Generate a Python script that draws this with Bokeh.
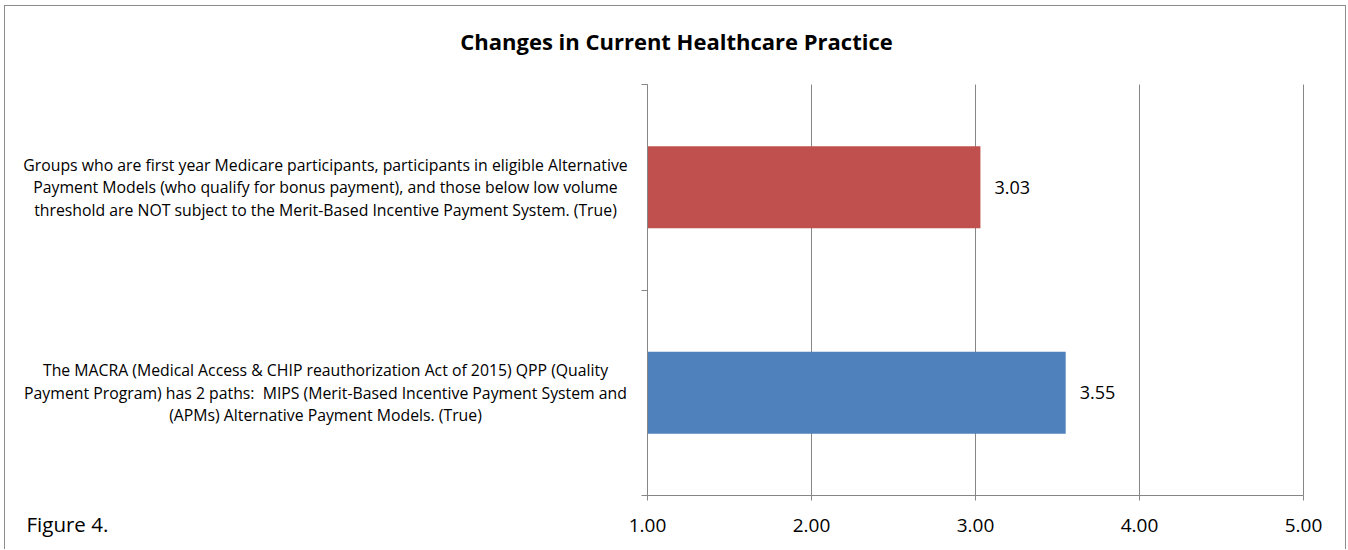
from bokeh.plotting import figure
from bokeh.models import ColumnDataSource, Range1d, FixedTicker, NumeralTickFormatter, Label, LabelSet
from bokeh.core.properties import value
from bokeh.embed import file_html
from bokeh.resources import INLINE

# ---- data ----
title_text = "Changes in Current Healthcare Practice"
categories = [
    "The MACRA (Medical Access & CHIP reauthorization Act of 2015) QPP (Quality\nPayment Program) has 2 paths:\u00a0 MIPS (Merit-Based Incentive Payment System and\n(APMs) Alternative Payment Models. (True)",
    "Groups who are first year Medicare participants, participants in eligible Alternative\nPayment Models (who qualify for bonus payment), and those below low volume\nthreshold are NOT subject to the Merit-Based Incentive Payment System. (True)",
]
values = [3.55, 3.03]
value_labels = ["3.55", "3.03"]
colors = ["#4F81BD", "#C0504D"]
x_ticks = [1, 2, 3, 4, 5]
y_bounds_ticks = [0, 1, 2]
caption = "Figure 4."

FONT = "Open Sans"
GRID = "#868686"
BORDER = "#8c8c8c"

# page-pixel geometry of the reference
CX0, CY0 = 5, 6                # canvas origin on the page (inside a 1px border at x=4, y=5)
W, H = 1342, 544               # canvas size -> right border at x=1347, bottom at page edge
PLOT_L, PLOT_R = 647, 1303     # x = 1 .. 5
PLOT_T, PLOT_B = 84, 495       # y = 2 .. 0
PX_X = (PLOT_R - PLOT_L) / 4.0
PX_Y = (PLOT_B - PLOT_T) / 2.0

def dx(px):
    return 1 + (px - PLOT_L) / PX_X

def dy(py):
    return (PLOT_B - py) / PX_Y

p = figure(width=W, height=H, output_backend="svg", toolbar_location=None,
           x_range=Range1d(dx(CX0), dx(CX0 + W)), y_range=Range1d(dy(CY0 + H), dy(CY0)),
           min_border_left=0, min_border_top=0, min_border_right=0, min_border_bottom=0)
p.styles = {"margin-left": "4px", "margin-top": "5px",
            "border-top": f"1px solid {BORDER}", "border-left": f"1px solid {BORDER}",
            "border-right": f"1px solid {BORDER}"}
p.outline_line_color = None
p.background_fill_color = "white"
p.border_fill_color = "white"
p.xgrid.visible = False
p.ygrid.visible = False

# vertical gridlines at the x ticks, spanning the plot area only
p.segment(x0=x_ticks, x1=x_ticks, y0=y_bounds_ticks[0], y1=y_bounds_ticks[-1],
          line_color=GRID, line_width=1)

ypos = [0.5, 1.5]
src = ColumnDataSource(dict(y=ypos, v=values, c=colors, lab=value_labels))
p.hbar(y="y", left=1, right="v", height=0.4, color="c", line_color=None, source=src)

p.add_layout(LabelSet(x="v", y="y", text="lab", source=src, x_offset=14,
                      text_align="left", text_baseline="middle",
                      text_font=value(FONT), text_font_size="18px", text_color="black"))

# axes fixed at the plot-area edges
xa = p.xaxis[0]
xa.fixed_location = 0
xa.bounds = (1, 5)
xa.ticker = FixedTicker(ticks=x_ticks)
xa.formatter = NumeralTickFormatter(format="0.00")
xa.axis_line_color = GRID
xa.major_tick_line_color = GRID
xa.major_tick_out = 5
xa.major_tick_in = 0
xa.minor_tick_line_color = None
xa.major_label_standoff = 18
xa.major_label_text_font = FONT
xa.major_label_text_font_size = "19px"
xa.major_label_text_color = "black"

ya = p.yaxis[0]
ya.fixed_location = 1
ya.bounds = (0, 2)
ya.ticker = FixedTicker(ticks=y_bounds_ticks)
ya.major_label_overrides = {0: "", 1: "", 2: ""}
ya.axis_line_color = GRID
ya.major_tick_line_color = GRID
ya.major_tick_out = 6
ya.major_tick_in = 0
ya.minor_tick_line_color = None

for yv, txt in zip(ypos, categories):
    p.add_layout(Label(x=dx(325), y=yv, text=txt, text_align="center", text_baseline="middle",
                       text_font=FONT, text_font_size="15.8px", text_color="black",
                       text_line_height=1.03))

p.add_layout(Label(x=dx(676), y=dy(40), text=title_text, text_align="center",
                   text_baseline="middle", text_font=FONT, text_font_style="bold",
                   text_font_size="22px", text_color="black"))
p.add_layout(Label(x=dx(26), y=dy(523), text=caption, text_align="left",
                   text_baseline="middle", text_font=FONT, text_font_size="20.5px",
                   text_color="black"))

open("out.html", "w").write(file_html(p, INLINE))
